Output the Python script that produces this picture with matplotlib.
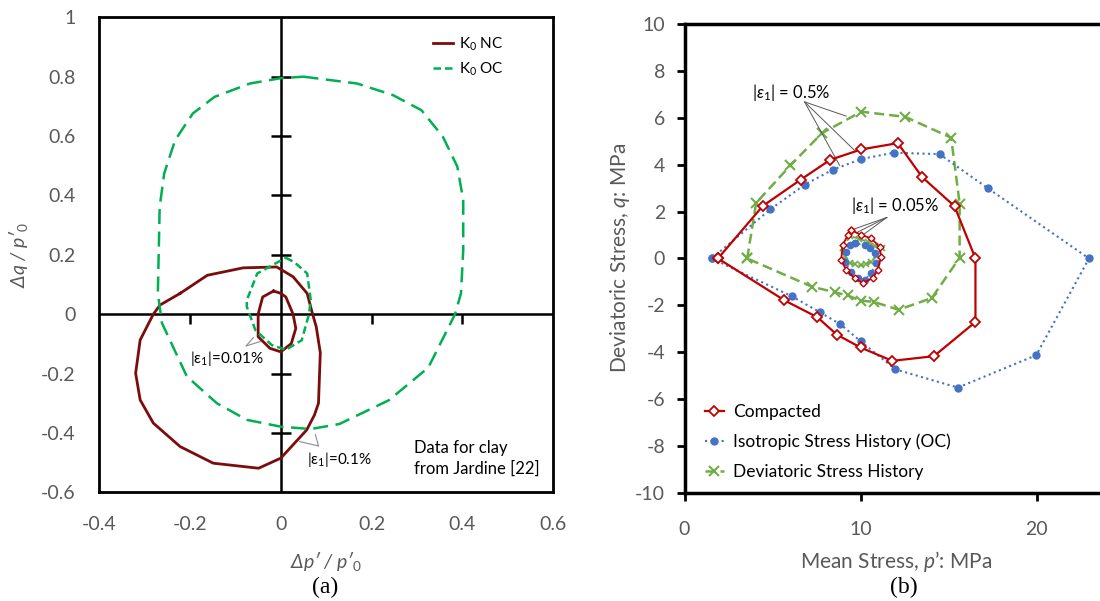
import numpy as np
import matplotlib
matplotlib.use("Agg")
import matplotlib.pyplot as plt

plt.rcParams['font.family'] = ['Lato', 'DejaVu Sans']
plt.rcParams['mathtext.fontset'] = 'custom'
plt.rcParams['mathtext.rm'] = 'Lato'
plt.rcParams['mathtext.it'] = 'Lato:italic'
plt.rcParams['axes.unicode_minus'] = False

# ---- (a) data for clay, Jardine [22] ----
nc_out_x = [-0.222, -0.162, -0.083, -0.009, 0.027, 0.058, 0.07, 0.078, 0.087, 0.083, 0.074, 0.057,
            0.0, -0.049, -0.149, -0.222, -0.281, -0.31, -0.32, -0.31, -0.281, -0.266, -0.222]
nc_out_y = [0.07, 0.131, 0.156, 0.159, 0.126, 0.07, 0.0, -0.042, -0.13, -0.30, -0.34, -0.39,
            -0.485, -0.519, -0.502, -0.446, -0.367, -0.289, -0.199, -0.087, 0.0, 0.031, 0.07]
nc_in_x = [-0.016, -0.04, -0.05, -0.05, -0.024, 0.0, 0.023, 0.033, 0.027, 0.011, 0.0, -0.016]
nc_in_y = [0.078, 0.058, 0.0, -0.076, -0.115, -0.127, -0.099, -0.048, 0.0, 0.058, 0.07, 0.078]
oc_out_x = [0.05, 0.168, 0.247, 0.31, 0.357, 0.389, 0.402, 0.402, 0.397, 0.384, 0.325, 0.238, 0.129,
            0.066, 0.0, -0.075, -0.141, -0.207, -0.262, -0.271, -0.267, -0.257, -0.233, -0.194,
            -0.146, -0.068, 0.0, 0.05]
oc_out_y = [0.80, 0.777, 0.738, 0.687, 0.598, 0.497, 0.384, 0.216, 0.07, 0.0, -0.18, -0.29, -0.37,
            -0.387, -0.379, -0.356, -0.30, -0.21, -0.03, 0.07, 0.362, 0.474, 0.586, 0.676,
            0.732, 0.777, 0.795, 0.80]
oc_in_x = [0.011, 0.03, 0.058, 0.066, 0.062, 0.046, 0.011, -0.02, -0.056, -0.075, -0.075, -0.052, 0.011]
oc_in_y = [0.19, 0.175, 0.137, 0.047, 0.0, -0.088, -0.12, -0.104, -0.054, 0.025, 0.047, 0.137, 0.19]
a_xticks = [-0.4, -0.2, 0, 0.2, 0.4, 0.6]
a_yticks = [-0.6, -0.4, -0.2, 0, 0.2, 0.4, 0.6, 0.8, 1]

# ---- (b) ----
comp_p = [1.9, 4.45, 6.6, 8.28, 10.04, 12.12, 13.5, 15.34, 16.53, 16.53, 14.17, 11.8, 10.0, 8.65, 7.55, 5.68, 1.9]
comp_q = [0, 2.24, 3.36, 4.21, 4.65, 4.92, 3.47, 2.23, 0, -2.71, -4.17, -4.37, -3.8, -3.25, -2.51, -1.79, 0]
iso_p = [1.54, 4.87, 6.84, 8.43, 10.04, 11.88, 14.49, 17.24, 22.98, 19.98, 15.53, 11.97, 10.0, 8.84, 7.67, 6.11, 1.54]
iso_q = [0, 2.09, 3.15, 3.79, 4.24, 4.51, 4.45, 2.99, 0, -4.13, -5.51, -4.73, -3.53, -2.8, -2.29, -1.62, 0]
dev_p = [3.56, 4.07, 6.02, 7.8, 10.04, 12.54, 15.15, 15.63, 15.63, 14.05, 12.16, 10.74, 10.0, 9.28, 8.56, 7.22, 3.56]
dev_q = [0, 2.37, 3.97, 5.34, 6.26, 6.04, 5.15, 2.34, 0.03, -1.69, -2.19, -1.85, -1.8, -1.58, -1.45, -1.2, 0]
# small strain loops (|e1| = 0.05%)
comp_s_p = [9.47, 10.04, 10.6, 11.08, 11.17, 10.98, 10.7, 10.13, 9.66, 9.18, 8.9, 8.99, 9.28, 9.47]
comp_s_q = [1.21, 1.0, 0.86, 0.5, 0.08, -0.49, -0.84, -1.05, -0.84, -0.49, -0.06, 0.57, 1.0, 1.21]
iso_s_p = [9.66, 10.23, 10.51, 10.8, 10.89, 10.6, 10.23, 9.85, 9.47, 9.09, 9.18, 9.38, 9.66]
iso_s_q = [0.65, 0.57, 0.43, 0.22, -0.2, -0.63, -0.91, -0.84, -0.56, -0.14, 0.29, 0.57, 0.65]
dev_s_p = [9.0, 9.4, 9.9, 10.4, 10.8, 11.2, 10.9, 10.6, 10.3, 10.0, 9.7, 9.4, 9.1, 9.0]
dev_s_q = [0.45, 0.95, 0.85, 0.7, 0.55, 0.45, 0.1, -0.15, -0.25, -0.3, -0.25, -0.2, 0.1, 0.45]
b_xticks = [0, 10, 20]
b_yticks = [-10, -8, -6, -4, -2, 0, 2, 4, 6, 8, 10]

grey = '#595959'
fig = plt.figure(figsize=(11, 6.01), dpi=100)

# ================= (a) =================
ax = fig.add_axes([0.0903, 0.1809, 0.4125, 0.7903])
ax.set_xlim(-0.4, 0.6)
ax.set_ylim(-0.6, 1.0)
for s in ax.spines.values():
    s.set_linewidth(2)
ax.axhline(0, color='k', lw=1.8, zorder=1)
ax.axvline(0, color='k', lw=1.8, zorder=1)
inner_y = [t for t in a_yticks if t not in (-0.6, 0, 1)]
inner_x = [t for t in a_xticks if t not in (-0.4, 0, 0.6)]
ax.plot(np.zeros(len(inner_y)), inner_y, ls='none', marker='_', ms=15, mew=1.8, color='k', zorder=1)
ax.plot(inner_x, np.zeros(len(inner_x)), ls='none', marker=3, ms=7, mew=1.8, color='k', zorder=1)

nc_col = '#7B0C0C'
oc_col = '#00B050'
ax.plot(nc_out_x, nc_out_y, color=nc_col, lw=2, label='K$_0$ NC')
ax.plot(nc_in_x, nc_in_y, color=nc_col, lw=2)
ax.plot(oc_in_x, oc_in_y, color=oc_col, lw=1.8, dashes=(3, 1.6), label='K$_0$ OC')
ax.plot(oc_out_x, oc_out_y, color=oc_col, lw=1.8, dashes=(6, 3))

ax.set_xticks(a_xticks)
ax.set_yticks(a_yticks)
ax.set_xticklabels(['-0.4', '-0.2', '0', '0.2', '0.4', '0.6'])
ax.set_yticklabels(['-0.6', '-0.4', '-0.2', '0', '0.2', '0.4', '0.6', '0.8', '1'])
ax.tick_params(axis='y', length=0, labelsize=14, labelcolor=grey, pad=17)
ax.tick_params(axis='x', length=0, labelsize=14, labelcolor=grey, pad=17)
ax.set_xlabel("Δp′ / p′$_0$", fontsize=14, color=grey, style='italic', labelpad=12)
ax.set_ylabel("Δq / p′$_0$", fontsize=14, color=grey, style='italic', labelpad=8)

ax.legend(loc='upper left', bbox_to_anchor=(0.735, 0.962), frameon=False, fontsize=11,
          handlelength=1.3, handletextpad=0.4, borderpad=0, borderaxespad=0, labelspacing=0.5)

lc = '#8C8C8C'
ax.text(-0.2, -0.148, '|ε$_1$|=0.01%', fontsize=11, va='center', ha='left')
for tgt in [(-0.06, -0.078), (-0.045, -0.092)]:
    ax.annotate('', xy=tgt, xytext=(-0.0765, -0.107),
                arrowprops=dict(arrowstyle='-', color=lc, lw=0.8, shrinkA=0, shrinkB=0))
ax.text(0.058, -0.49, '|ε$_1$|=0.1%', fontsize=11, va='center', ha='left')
for tgt in [(0.041, -0.429), (0.076, -0.405)]:
    ax.annotate('', xy=tgt, xytext=(0.083, -0.444),
                arrowprops=dict(arrowstyle='-', color=lc, lw=0.8, shrinkA=0, shrinkB=0))
ax.text(0.293, -0.485, 'Data for clay\nfrom Jardine [22]', fontsize=12, va='center', ha='left',
        linespacing=1.35)

fig.text(0.296, 0.022, '(a)', fontsize=17, family='Liberation Serif', ha='center', va='center')

# ================= (b) =================
bx = fig.add_axes([0.6223, 0.18, 0.384, 0.78])
bx.set_xlim(0, 24)
bx.set_ylim(-10, 10)
for k in ['left', 'bottom', 'top']:
    bx.spines[k].set_linewidth(2.5)
bx.spines['right'].set_visible(False)

red = '#C00000'
blue = '#4472C4'
green = '#70AD47'
bx.plot(comp_p, comp_q, color=red, lw=1.6, marker='D', ms=5, mfc='white', mec=red, mew=1.3,
        label='Compacted', zorder=4)
bx.plot(iso_p, iso_q, color=blue, lw=1.5, ls=':', marker='o', ms=5, mfc=blue, mec=blue,
        label='Isotropic Stress History (OC)', zorder=3)
bx.plot(dev_p, dev_q, color=green, lw=1.8, dashes=(4, 2), marker='x', ms=7, mew=1.5,
        label='Deviatoric Stress History', zorder=2)
bx.plot(comp_s_p, comp_s_q, color=red, lw=1.3, marker='D', ms=3.5, mfc='white', mec=red, mew=1, zorder=4)
bx.plot(iso_s_p, iso_s_q, color=blue, lw=1.2, ls=':', marker='o', ms=4.5, mfc=blue, mec=blue, zorder=3)
bx.plot(dev_s_p, dev_s_q, color=green, lw=1.3, dashes=(3, 1.5), marker='x', ms=5, mew=1.2, zorder=2)

bx.set_xticks(b_xticks)
bx.set_yticks(b_yticks)
bx.tick_params(axis='y', direction='out', length=6, width=2, labelsize=14, labelcolor=grey, pad=8)
bx.tick_params(axis='x', direction='out', length=6, width=2, labelsize=14, labelcolor=grey, pad=14)
bx.set_xlabel("Mean Stress, $p$’: MPa", fontsize=15, color=grey, labelpad=8)
bx.set_ylabel("Deviatoric Stress, $q$: MPa", fontsize=15, color=grey, labelpad=2)

bx.legend(loc='upper left', bbox_to_anchor=(0.048, 0.19), frameon=False, fontsize=12.5,
          handlelength=1.1, handletextpad=0.55, borderpad=0, borderaxespad=0, labelspacing=0.8)

bx.text(3.86, 7.1, r'|$\varepsilon_1$| = 0.5%', fontsize=12, va='center', ha='left')
for tgt in [(9.19, 6.07), (9.66, 4.61), (8.81, 3.97)]:
    bx.annotate('', xy=tgt, xytext=(6.82, 6.68),
                arrowprops=dict(arrowstyle='-', color=grey, lw=0.7, shrinkA=0, shrinkB=0))
bx.text(9.47, 2.27, r'|$\varepsilon_1$| = 0.05%', fontsize=12, va='center', ha='left')
for tgt in [(9.47, 1.21), (9.75, 1.09), (10.04, 0.95)]:
    bx.annotate('', xy=tgt, xytext=(11.5, 1.75),
                arrowprops=dict(arrowstyle='-', color=grey, lw=0.7, shrinkA=0, shrinkB=0))

fig.text(0.822, 0.022, '(b)', fontsize=17, family='Liberation Serif', ha='center', va='center')

fig.savefig('out.png', dpi=100)
